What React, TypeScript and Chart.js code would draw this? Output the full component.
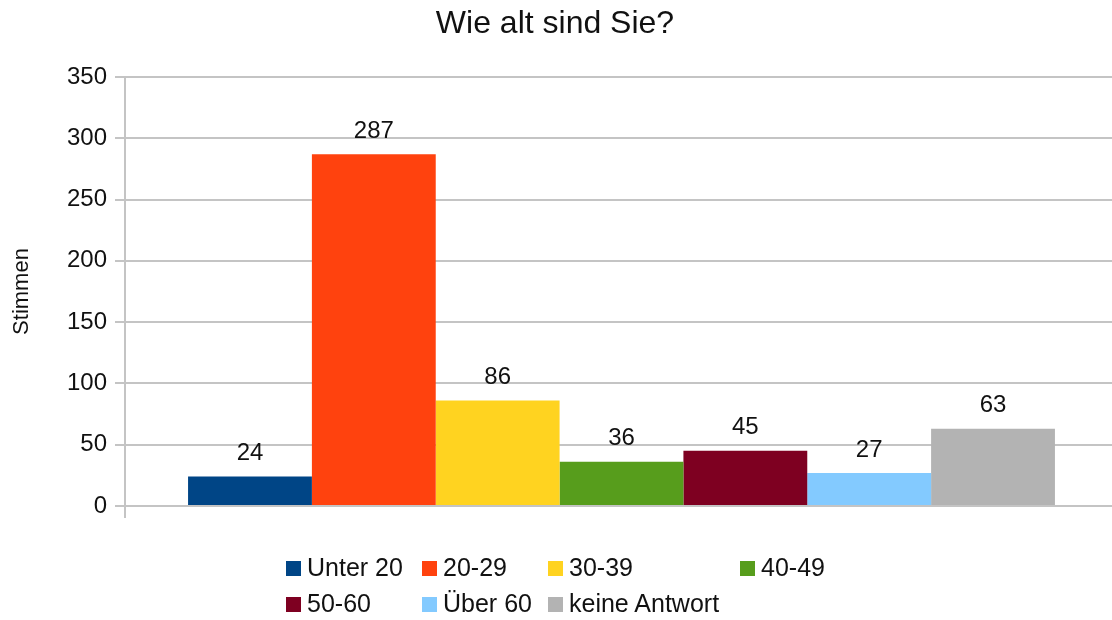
import React, { useEffect, useRef } from "react";
import { Chart, registerables } from "chart.js";

Chart.register(...registerables);

const categories = ["Unter 20", "20-29", "30-39", "40-49", "50-60", "Über 60", "keine Antwort"];
const votes = [24, 287, 86, 36, 45, 27, 63];
const barColors = ["#004586", "#ff420e", "#ffd320", "#579d1c", "#7e0021", "#83caff", "#b3b3b3"];
const yMin = 0;
const yMax = 350;
const yStep = 50;
const chartTitle = "Wie alt sind Sie?";
const yTitle = "Stimmen";

const FONT = "'Liberation Sans', Arial, sans-serif";
const GRID = "#c4c4c4";

// legend item placements: box left x, row top y
const legendPos = [
  { x: 286, row: 0 },
  { x: 422, row: 0 },
  { x: 548, row: 0 },
  { x: 740, row: 0 },
  { x: 286, row: 1 },
  { x: 422, row: 1 },
  { x: 548, row: 1 },
];
const rowTop = [555, 591];

const valueLabels = {
  id: "valueLabels",
  afterDatasetsDraw(chart: any) {
    const ctx = chart.ctx;
    ctx.save();
    ctx.font = `24px ${FONT}`;
    ctx.fillStyle = "#111";
    ctx.textAlign = "center";
    ctx.textBaseline = "bottom";
    chart.data.datasets.forEach((ds: any, i: number) => {
      const meta = chart.getDatasetMeta(i);
      meta.data.forEach((bar: any, j: number) => {
        ctx.fillText(String(ds.data[j]), bar.x, bar.y - 11);
      });
    });
    ctx.restore();
  },
};

const titlePlugin = {
  id: "fixedTitle",
  afterDraw(chart: any) {
    const ctx = chart.ctx;
    ctx.save();
    ctx.font = `32px ${FONT}`;
    ctx.fillStyle = "#111";
    ctx.textAlign = "center";
    ctx.textBaseline = "alphabetic";
    ctx.fillText(chartTitle, 555, 33);
    ctx.restore();
  },
};

export default function App() {
  const ref = useRef<HTMLCanvasElement | null>(null);
  useEffect(() => {
    if (!ref.current) return;
    const chart = new Chart(ref.current, {
      type: "bar",
      data: {
        labels: [""],
        datasets: categories.map((c, i) => ({
          label: c,
          data: [votes[i]],
          backgroundColor: barColors[i],
          borderWidth: 0,
          barPercentage: 1,
          categoryPercentage: 0.873,
        })),
      },
      options: {
        responsive: false,
        animation: false,
        layout: { padding: { left: 0, right: 6, top: 77, bottom: 102 } },
        plugins: {
          legend: { display: false },
          tooltip: { enabled: false },
          title: { display: false },
        },
        scales: {
          x: {
            grid: {
              display: true,
              drawOnChartArea: false,
              drawTicks: true,
              tickLength: 12,
              offset: true,
              color: GRID,
              lineWidth: 2,
            },
            border: { display: true, color: GRID, width: 2 },
            ticks: { display: false },
          },
          y: {
            min: yMin,
            max: yMax,
            afterFit(scale: any) {
              scale.width = 125;
            },
            ticks: {
              stepSize: yStep,
              color: "#111",
              padding: 8,
              font: { family: FONT, size: 24 },
            },
            grid: { color: GRID, lineWidth: 2, tickLength: 10 },
            border: { display: true, color: GRID, width: 2 },
            title: {
              display: true,
              text: yTitle,
              color: "#111",
              font: { family: FONT, size: 22 },
              padding: { top: 9, bottom: 0 },
            },
          },
        },
      },
      plugins: [valueLabels, titlePlugin],
    });
    return () => chart.destroy();
  }, []);

  return (
    <div
      style={{
        position: "fixed",
        left: 0,
        top: 0,
        width: 1112,
        height: 620,
        overflow: "hidden",
        background: "#fff",
      }}
    >
      <canvas ref={ref} width={1124} height={620} style={{ display: "block" }} />
      {categories.map((c, i) => (
        <div
          key={c}
          style={{
            position: "absolute",
            left: legendPos[i].x,
            top: rowTop[legendPos[i].row],
            height: 25,
            lineHeight: "25px",
            fontFamily: FONT,
            fontSize: 25,
            color: "#111",
            whiteSpace: "nowrap",
          }}
        >
          <span
            style={{
              display: "inline-block",
              width: 15,
              height: 15,
              background: barColors[i],
              marginRight: 6,
              verticalAlign: "baseline",
            }}
          />
          {c}
        </div>
      ))}
    </div>
  );
}
